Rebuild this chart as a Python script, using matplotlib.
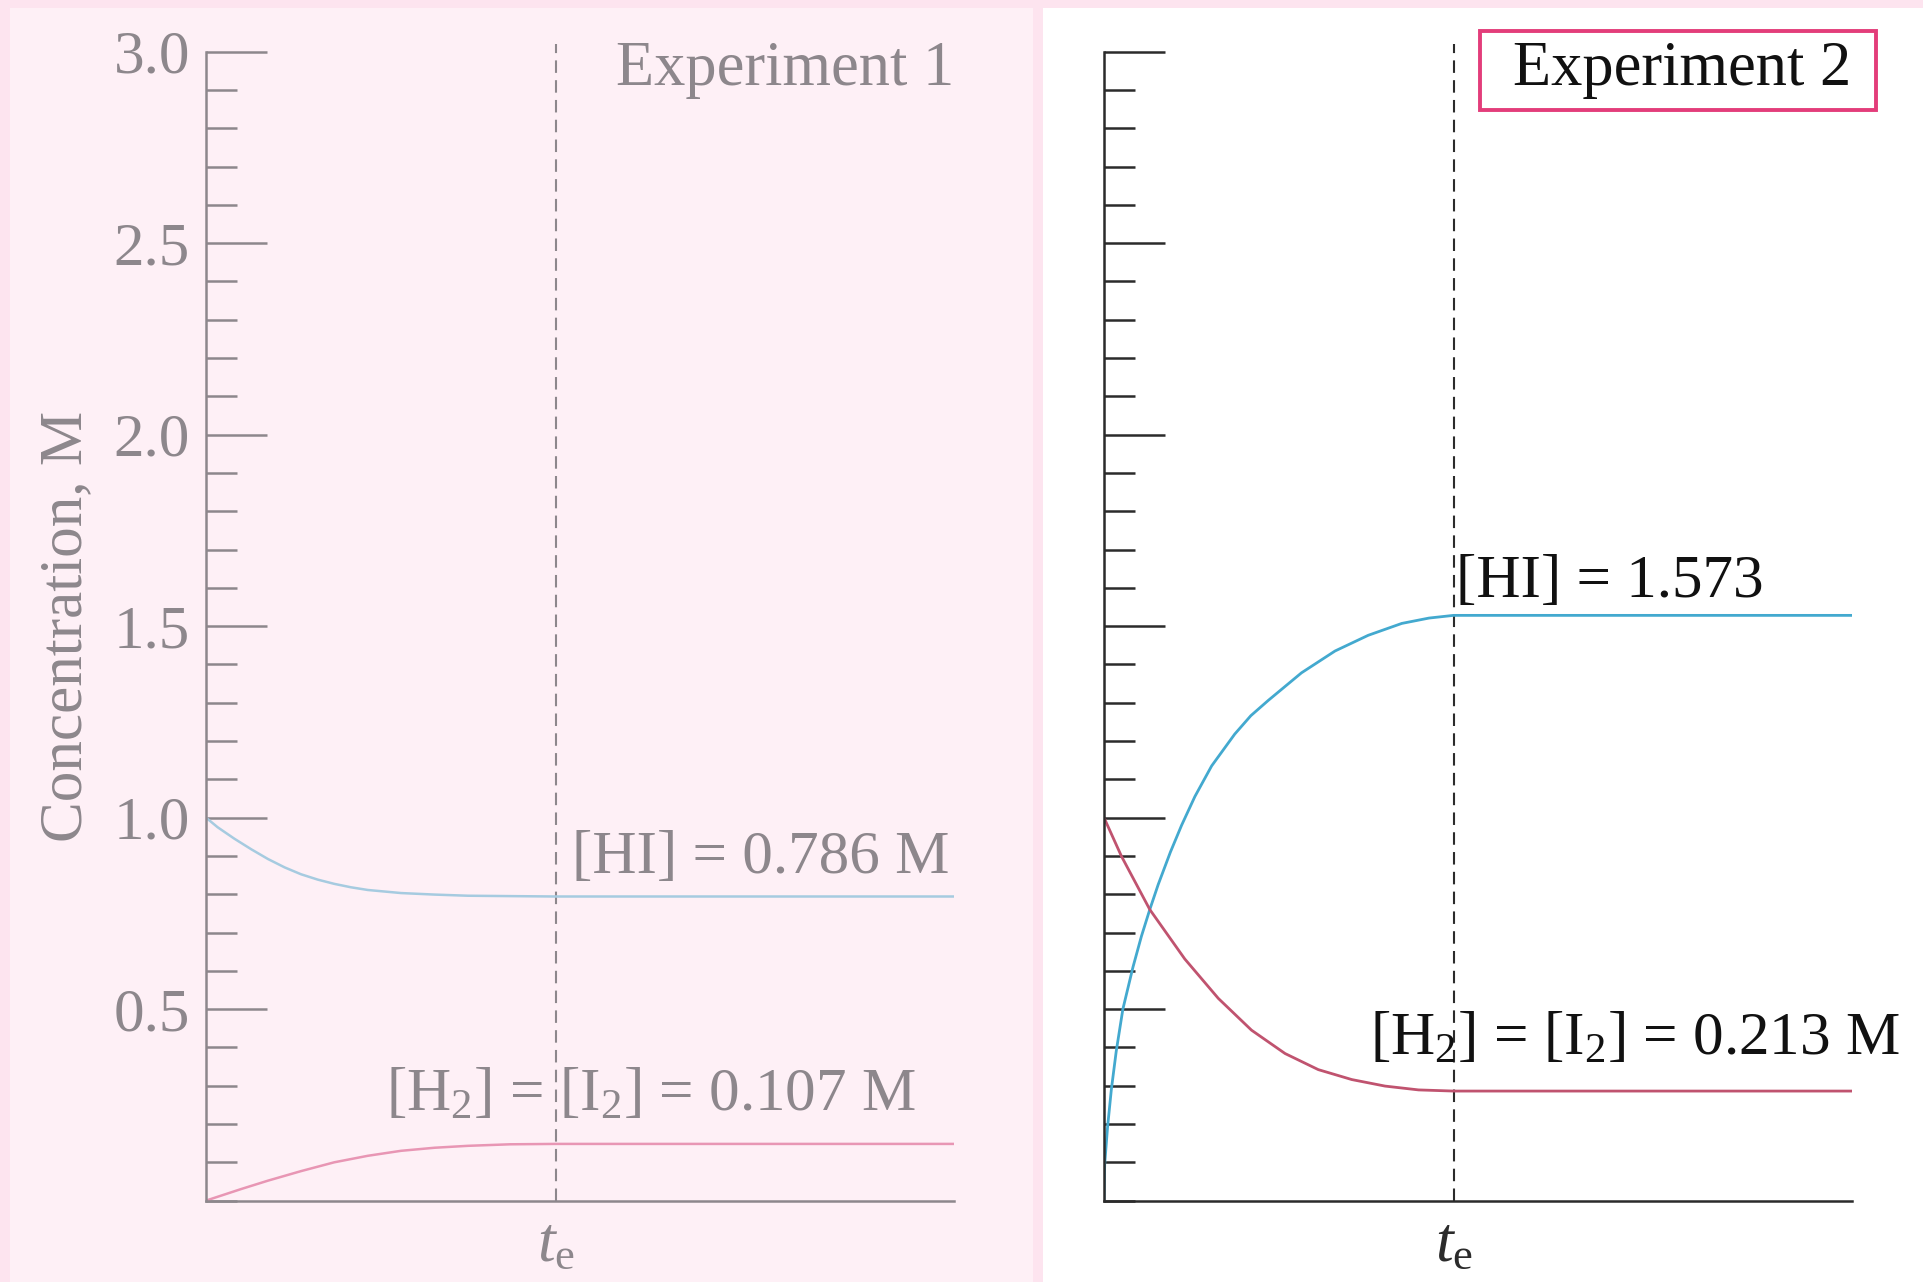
import matplotlib.pyplot as plt
from matplotlib.patches import Rectangle
from matplotlib.ticker import MultipleLocator

plt.rcParams['font.family'] = 'Liberation Serif'
plt.rcParams['mathtext.fontset'] = 'custom'
plt.rcParams['mathtext.rm'] = 'Liberation Serif'
plt.rcParams['mathtext.it'] = 'Liberation Serif:italic'

# time axis in units of t_e
t_e = 1.0
t_end = 2.14

# experiment 1: start with 1.0 M HI
t_hi_1 = [0, 0.033, 0.081, 0.13, 0.177, 0.225, 0.272, 0.32, 0.367, 0.415,
          0.463, 0.558, 0.654, 0.749, 0.87, 1.0, 2.14]
hi_1 = [1.0, 0.975, 0.945, 0.917, 0.892, 0.870, 0.852, 0.838, 0.827, 0.818,
        0.811, 0.803, 0.799, 0.796, 0.795, 0.794, 0.794]
t_h2_1 = [0, 0.1, 0.177, 0.272, 0.367, 0.463, 0.558, 0.654, 0.749, 0.87, 1.0, 2.14]
h2_1 = [0, 0.03, 0.052, 0.077, 0.1, 0.117, 0.13, 0.138, 0.143, 0.147, 0.148, 0.148]

# experiment 2: start with 1.0 M H2 and I2
t_hi_2 = [0, 0.002, 0.01, 0.021, 0.035, 0.054, 0.083, 0.107, 0.131, 0.155, 0.19,
          0.222, 0.26, 0.308, 0.374, 0.42, 0.47, 0.565, 0.661, 0.756, 0.852,
          0.93, 1.0, 2.14]
hi_2 = [0, 0.095, 0.19, 0.29, 0.39, 0.5, 0.61, 0.69, 0.76, 0.825, 0.91,
        0.98, 1.055, 1.135, 1.218, 1.266, 1.306, 1.378, 1.435, 1.476, 1.507,
        1.521, 1.528, 1.528]
t_h2_2 = [0, 0.05, 0.131, 0.231, 0.327, 0.422, 0.518, 0.613, 0.709, 0.804, 0.9, 1.0, 2.14]
h2_2 = [1.0, 0.899, 0.76, 0.631, 0.528, 0.445, 0.384, 0.342, 0.316, 0.299, 0.289, 0.286, 0.286]

major_ticks = [0.5, 1.0, 1.5, 2.0, 2.5, 3.0]
tick_labels = ["0.5", "1.0", "1.5", "2.0", "2.5", "3.0"]

grey = '#8d878c'
dark = '#2b2b2b'
fs = 44

fig = plt.figure(figsize=(19.23, 12.82), dpi=100)
fig.patch.set_facecolor('#fde4ef')
fig.add_artist(Rectangle((10 / 1923, 0), 1023 / 1923, 1 - 8 / 1282,
                         transform=fig.transFigure, fc='#fef0f6', ec='none', zorder=-10))
fig.add_artist(Rectangle((1043 / 1923, 0), 880 / 1923, 1 - 8 / 1282,
                         transform=fig.transFigure, fc='white', ec='none', zorder=-10))

ax1 = fig.add_axes([206 / 1923, 81.4 / 1282, 748 / 1923, 1149 / 1282])
ax2 = fig.add_axes([1104 / 1923, 81.4 / 1282, 748 / 1923, 1149 / 1282])


def style(ax, c, show_labels):
    ax.set_facecolor('none')
    ax.set_xlim(0, t_end)
    ax.set_ylim(0, 3.0)
    for s in ['top', 'right']:
        ax.spines[s].set_visible(False)
    for s in ['left', 'bottom']:
        ax.spines[s].set_color(c)
        ax.spines[s].set_linewidth(1.8)
    ax.set_yticks(major_ticks)
    ax.set_yticklabels(tick_labels)
    ax.yaxis.set_minor_locator(MultipleLocator(0.1))
    ax.tick_params(axis='y', which='major', direction='in', length=44, width=1.8,
                   color=c, labelsize=fs, labelcolor=c, pad=11.5, labelleft=show_labels)
    ax.tick_params(axis='y', which='minor', direction='in', length=22, width=1.8, color=c)
    ax.set_xticks([t_e])
    ax.set_xticklabels([r'$t_\mathrm{e}$'])
    ax.tick_params(axis='x', length=0, labelsize=fs + 2, labelcolor=c, pad=12)
    ax.plot([t_e, t_e], [0, 3.02], color=c, lw=1.5, dashes=(6, 3.5), clip_on=False)


style(ax1, grey, True)
style(ax2, dark, False)

# experiment 1
ax1.plot(t_hi_1, hi_1, color='#a6cbe0', lw=1.8, solid_joinstyle='round')
ax1.plot(t_h2_1, h2_1, color='#e896b4', lw=1.8, solid_joinstyle='round')
ax1.text(-0.186, 0.5, 'Concentration, M', rotation=90, ha='center', va='center',
         transform=ax1.transAxes, fontsize=fs, color=grey)
ax1.text(t_end, 2.952, 'Experiment 1', ha='right', va='center', fontsize=fs + 1, color=grey)
ax1.text(1.046, 0.855, '[HI] = 0.786 M', va='baseline', fontsize=fs, color=grey)
ax1.text(0.516, 0.235, '[H$_2$] = [I$_2$] = 0.107 M', va='baseline', fontsize=fs, color=grey)

# experiment 2
ax2.plot(t_hi_2, hi_2, color='#43a9cf', lw=2.0, solid_joinstyle='round')
ax2.plot(t_h2_2, h2_2, color='#c0536f', lw=2.0, solid_joinstyle='round')
ax2.add_patch(Rectangle((1.076, 2.848), 1.133, 0.206, fc='white', ec='#e33d7a',
                        lw=2.8, clip_on=False, zorder=3))
ax2.text(1.654, 2.952, 'Experiment 2', ha='center', va='center', fontsize=fs + 1,
         color='#111111', zorder=4)
ax2.text(1.007, 1.575, '[HI] = 1.573', va='baseline', fontsize=fs, color='#111111')
ax2.text(0.761, 0.382, '[H$_2$] = [I$_2$] = 0.213 M', va='baseline', fontsize=fs,
         color='#111111', clip_on=False)

fig.savefig('out.png', dpi=100, facecolor=fig.get_facecolor())
